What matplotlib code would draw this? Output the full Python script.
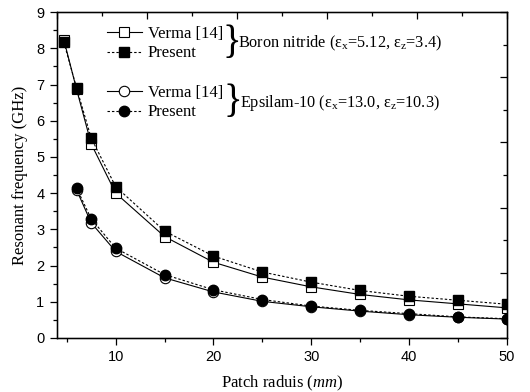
import numpy as np
import matplotlib
matplotlib.use("Agg")
import matplotlib.pyplot as plt
from matplotlib.ticker import MultipleLocator

plt.rcParams['font.family'] = ['Liberation Serif', 'DejaVu Serif']
plt.rcParams['mathtext.fontset'] = 'custom'
plt.rcParams['mathtext.rm'] = 'Liberation Serif'
plt.rcParams['mathtext.it'] = 'Liberation Serif:italic'

# Boron nitride
bn_x = [4.7, 6, 7.5, 10, 15, 20, 25, 30, 35, 40, 45, 50]
bn_verma = [8.24, 6.87, 5.36, 4.00, 2.80, 2.09, 1.68, 1.41, 1.20, 1.05, 0.94, 0.83]
bn_present = [8.17, 6.91, 5.52, 4.18, 2.95, 2.26, 1.82, 1.54, 1.31, 1.15, 1.04, 0.93]

# Epsilam-10
ep_x = [6, 7.5, 10, 15, 20, 25, 30, 35, 40, 45, 50]
ep_verma = [4.09, 3.18, 2.39, 1.66, 1.27, 1.01, 0.86, 0.74, 0.64, 0.57, 0.52]
ep_present = [4.14, 3.29, 2.48, 1.75, 1.33, 1.06, 0.88, 0.76, 0.67, 0.58, 0.53]

fig = plt.figure(figsize=(5.3, 3.92), dpi=100)
ax = fig.add_axes([0.1075, 0.138, 0.849, 0.831])

lw = 0.8
dots = (0, (2.2, 1.8))
l1, = ax.plot(bn_x, bn_verma, '-', color='k', lw=lw, marker='s', ms=6.5,
              mfc='white', mec='k', mew=0.8, label='Verma [14]')
l2, = ax.plot(bn_x, bn_present, color='k', lw=lw, ls=dots, marker='s', ms=6.5,
              mfc='k', mec='k', label='Present')
l3, = ax.plot(ep_x, ep_verma, '-', color='k', lw=lw, marker='o', ms=7.5,
              mfc='white', mec='k', mew=0.8, label='Verma [14]')
l4, = ax.plot(ep_x, ep_present, color='k', lw=lw, ls=dots, marker='o', ms=7.5,
              mfc='k', mec='k', label='Present')

ax.set_xlim(4, 50)
ax.set_ylim(0, 9)
ax.xaxis.set_major_locator(MultipleLocator(10))
ax.xaxis.set_minor_locator(MultipleLocator(5))
ax.yaxis.set_major_locator(MultipleLocator(1))
ax.yaxis.set_minor_locator(MultipleLocator(0.5))
ax.tick_params(which='both', direction='out', width=0.9, labelsize=10.5, pad=4)
ax.tick_params(which='major', length=5)
ax.tick_params(which='minor', length=3)
for lab in ax.get_xticklabels() + ax.get_yticklabels():
    lab.set_fontfamily('Liberation Sans')
for s in ax.spines.values():
    s.set_linewidth(1.0)

# mirrored top/right axes with their own tick spacing
axt = ax.twiny()
axt.set_xlim(0, 10)
axt.xaxis.set_major_locator(MultipleLocator(2))
axt.xaxis.set_minor_locator(MultipleLocator(1))
axt.tick_params(which='both', direction='in', labeltop=False, width=0.9)
axt.tick_params(which='major', length=5)
axt.tick_params(which='minor', length=3)
axr = ax.twinx()
axr.set_ylim(0, 10)
axr.yaxis.set_major_locator(MultipleLocator(2))
axr.yaxis.set_minor_locator(MultipleLocator(1))
axr.tick_params(which='both', direction='in', labelright=False, width=0.9)
axr.tick_params(which='major', length=5)
axr.tick_params(which='minor', length=3)

ax.set_xlabel('Patch raduis ($\\mathit{mm}$)', fontsize=12, labelpad=7)
ax.set_ylabel('Resonant frequency (GHz)', fontsize=12, labelpad=6)

leg_kw = dict(frameon=False, fontsize=12, loc='center left', borderpad=0,
              borderaxespad=0, handlelength=2.1, handletextpad=0.35,
              labelspacing=0.2)
leg1 = axr.legend([l1, l2], ['Verma [14]', 'Present'],
                  bbox_to_anchor=(0.111, 0.903), **leg_kw)
axr.add_artist(leg1)
leg2 = axr.legend([l3, l4], ['Verma [14]', 'Present'],
                  bbox_to_anchor=(0.111, 0.722), **leg_kw)

ax.text(0.368, 0.903, '}', transform=ax.transAxes, fontsize=28,
        va='center', ha='left')
ax.text(0.403, 0.903, 'Boron nitride ($\\mathregular{ε_x}$=5.12, $\\mathregular{ε_z}$=3.4)',
        transform=ax.transAxes, fontsize=11.7, va='center', ha='left')
ax.text(0.370, 0.722, '}', transform=ax.transAxes, fontsize=28,
        va='center', ha='left')
ax.text(0.406, 0.722, 'Epsilam-10 ($\\mathregular{ε_x}$=13.0, $\\mathregular{ε_z}$=10.3)',
        transform=ax.transAxes, fontsize=11.7, va='center', ha='left')

fig.savefig('out.png', dpi=100)
